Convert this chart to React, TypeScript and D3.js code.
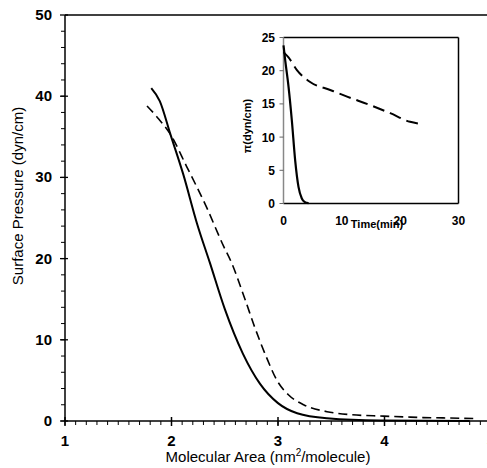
import React, { useEffect, useRef } from "react";
import * as d3 from "d3";

// main isotherms: [area nm^2/molecule, pressure dyn/cm]
const solidIso: [number, number][] = [
  [1.81, 41.0], [1.89, 39.4], [1.99, 35.3], [2.11, 30.4], [2.24, 24.3], [2.36, 19.5],
  [2.5, 13.8], [2.67, 8.3], [2.83, 4.6], [3.0, 2.2], [3.18, 0.95],
  [3.46, 0.33], [3.96, 0.05], [4.8, 0.0],
];
const dashedIso: [number, number][] = [
  [1.77, 38.8], [1.88, 37.2], [1.99, 35.3], [2.14, 31.4], [2.33, 26.3], [2.49, 21.5],
  [2.56, 19.6], [2.69, 15.0], [2.78, 11.6], [2.89, 7.9], [2.99, 5.0], [3.1, 3.2],
  [3.24, 2.0], [3.46, 1.15], [3.68, 0.78], [3.99, 0.6], [4.19, 0.5], [4.36, 0.42],
  [4.55, 0.38], [4.85, 0.3],
];

// inset relaxation: [time min, pressure]
const solidRelax: [number, number][] = [
  [0, 23.8], [0.3, 21.5], [0.86, 17.6], [1.43, 12.5], [2.0, 6.5], [2.57, 2.5],
  [3.14, 0.75], [3.6, 0.25], [4.3, 0.05],
];
const dashedRelax: [number, number][] = [
  [0, 22.8], [0.86, 22.0], [2.3, 20.1], [4.57, 18.3], [8.0, 17.1], [10.9, 16.1],
  [14.9, 14.8], [18.3, 13.6], [21.7, 12.3], [23.4, 12.0],
];

const mainXTicks = [1, 2, 3, 4, 5];
const mainYTicks = [0, 10, 20, 30, 40, 50];
const insetXTicks = [0, 10, 20, 30];
const insetYTicks = [0, 5, 10, 15, 20, 25];

const W = 487;
const H = 468;
const FONT = "'Liberation Sans', Arial, sans-serif";

const App = () => {
  const svgRef = useRef<SVGSVGElement>(null);

  useEffect(() => {
    const svg = d3.select(svgRef.current);
    svg.selectAll("*").remove();

    const x = d3.scaleLinear().domain([1, 5]).range([65, 491]);
    const y = d3.scaleLinear().domain([0, 50]).range([421, 15]);

    svg.append("rect").attr("width", W).attr("height", H).attr("fill", "#fff");

    // main frame: left axis, top line, bottom axis
    svg.append("line").attr("x1", x(1)).attr("x2", x(1)).attr("y1", y(50)).attr("y2", y(0))
      .attr("stroke", "#000").attr("stroke-width", 1.5);
    svg.append("line").attr("x1", x(1)).attr("x2", W).attr("y1", y(50)).attr("y2", y(50))
      .attr("stroke", "#000").attr("stroke-width", 1.5);
    svg.append("line").attr("x1", x(1)).attr("x2", W).attr("y1", y(0)).attr("y2", y(0))
      .attr("stroke", "#000").attr("stroke-width", 1.5);

    // y ticks
    svg.selectAll("line.ymin").data(d3.range(0, 50, 2)).enter().append("line")
      .attr("x1", x(1) - 4).attr("x2", x(1)).attr("y1", d => y(d)).attr("y2", d => y(d))
      .attr("stroke", "#000").attr("stroke-width", 1);
    svg.selectAll("line.ymaj").data(mainYTicks).enter().append("line")
      .attr("x1", x(1) - 5).attr("x2", x(1) + 3).attr("y1", d => y(d)).attr("y2", d => y(d))
      .attr("stroke", "#000").attr("stroke-width", 1.3);
    svg.selectAll("text.ylab").data(mainYTicks).enter().append("text")
      .attr("x", 52).attr("y", d => y(d) + 5).attr("text-anchor", "end").attr("fill", "#000")
      .style("font-family", FONT).style("font-size", "15px").style("font-weight", "bold")
      .text(d => d);

    // x ticks
    svg.selectAll("line.xmin").data(d3.range(1, 5, 0.1)).enter().append("line")
      .attr("x1", d => x(d)).attr("x2", d => x(d)).attr("y1", y(0)).attr("y2", y(0) + 4)
      .attr("stroke", "#000").attr("stroke-width", 1);
    svg.selectAll("line.xmaj").data(mainXTicks).enter().append("line")
      .attr("x1", d => x(d)).attr("x2", d => x(d)).attr("y1", y(0) - 4).attr("y2", y(0) + 5)
      .attr("stroke", "#000").attr("stroke-width", 1.5);
    svg.selectAll("text.xlab").data(mainXTicks).enter().append("text")
      .attr("x", d => x(d)).attr("y", 446).attr("text-anchor", "middle").attr("fill", "#000")
      .style("font-family", FONT).style("font-size", "15px").style("font-weight", "bold")
      .text(d => d);

    // titles
    const xt = svg.append("text").attr("x", 268).attr("y", 462).attr("text-anchor", "middle")
      .attr("fill", "#000").style("font-family", FONT).style("font-size", "15px");
    xt.append("tspan").text("Molecular Area (nm");
    xt.append("tspan").attr("dy", -6).style("font-size", "10px").text("2");
    xt.append("tspan").attr("dy", 6).text("/molecule)");
    svg.append("text").attr("transform", "translate(23,196) rotate(-90)").attr("text-anchor", "middle")
      .attr("fill", "#000").style("font-family", FONT).style("font-size", "15px")
      .text("Surface Pressure (dyn/cm)");

    const mainLine = d3.line<[number, number]>().x(d => x(d[0])).y(d => y(d[1])).curve(d3.curveMonotoneX);
    svg.append("path").attr("d", mainLine(solidIso)).attr("fill", "none")
      .attr("stroke", "#000").attr("stroke-width", 2);
    svg.append("path").attr("d", mainLine(dashedIso)).attr("fill", "none")
      .attr("stroke", "#000").attr("stroke-width", 1.6).attr("stroke-dasharray", "9,5");

    // inset
    const ix = d3.scaleLinear().domain([0, 30]).range([283.5, 458.5]);
    const iy = d3.scaleLinear().domain([0, 25]).range([203.5, 37.5]);
    const g = svg.append("g");
    g.append("rect").attr("x", ix(0)).attr("y", iy(25)).attr("width", ix(30) - ix(0))
      .attr("height", iy(0) - iy(25)).attr("fill", "#fff");
    g.append("line").attr("x1", ix(0)).attr("x2", ix(30)).attr("y1", iy(25)).attr("y2", iy(25))
      .attr("stroke", "#000").attr("stroke-width", 1.5);
    g.append("line").attr("x1", ix(30)).attr("x2", ix(30)).attr("y1", iy(25)).attr("y2", iy(0))
      .attr("stroke", "#000").attr("stroke-width", 1.5);
    g.append("line").attr("x1", ix(0)).attr("x2", ix(30)).attr("y1", iy(0)).attr("y2", iy(0))
      .attr("stroke", "#000").attr("stroke-width", 1.3);
    g.append("line").attr("x1", ix(0)).attr("x2", ix(0)).attr("y1", iy(25)).attr("y2", iy(0))
      .attr("stroke", "#888").attr("stroke-width", 1.5);
    g.selectAll("line.iy").data(insetYTicks).enter().append("line")
      .attr("x1", ix(0) - 4).attr("x2", ix(0)).attr("y1", d => iy(d)).attr("y2", d => iy(d))
      .attr("stroke", "#666").attr("stroke-width", 1);
    g.selectAll("text.iyl").data(insetYTicks).enter().append("text")
      .attr("x", 275).attr("y", d => iy(d) + 4.5).attr("text-anchor", "end").attr("fill", "#000")
      .style("font-family", FONT).style("font-size", "12px").style("font-weight", "bold")
      .text(d => d);
    g.selectAll("text.ixl").data(insetXTicks).enter().append("text")
      .attr("x", d => ix(d)).attr("y", 225).attr("text-anchor", "middle").attr("fill", "#000")
      .style("font-family", FONT).style("font-size", "12px").style("font-weight", "bold")
      .text(d => d);
    g.append("text").attr("x", 377).attr("y", 228).attr("text-anchor", "middle").attr("fill", "#000")
      .style("font-family", FONT).style("font-size", "11px").style("font-weight", "bold")
      .text("Time(min)");
    g.append("text").attr("transform", "translate(251,126) rotate(-90)").attr("text-anchor", "middle")
      .attr("fill", "#000").style("font-family", FONT).style("font-size", "11px").style("font-weight", "bold")
      .text("π(dyn/cm)");

    const insetLine = d3.line<[number, number]>().x(d => ix(d[0])).y(d => iy(d[1])).curve(d3.curveMonotoneX);
    g.append("path").attr("d", insetLine(solidRelax)).attr("fill", "none")
      .attr("stroke", "#000").attr("stroke-width", 2.2);
    g.append("path").attr("d", insetLine(dashedRelax)).attr("fill", "none")
      .attr("stroke", "#000").attr("stroke-width", 2).attr("stroke-dasharray", "12,6");
  }, []);

  return (
    <svg
      ref={svgRef}
      width={W}
      height={H}
      style={{ position: "absolute", left: 0, top: 0 }}
    />
  );
};

export default App;
